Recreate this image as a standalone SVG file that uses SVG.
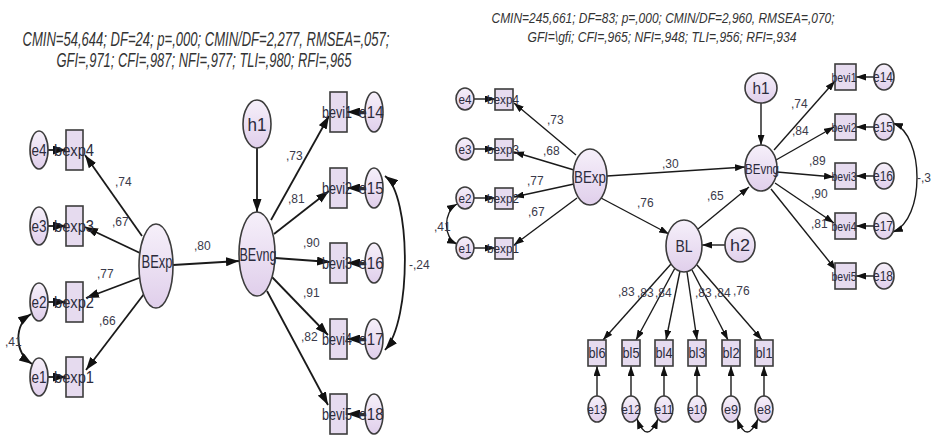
<svg xmlns="http://www.w3.org/2000/svg" width="934" height="440" viewBox="0 0 934 440">
<defs>
<linearGradient id="gf" x1="0" y1="0" x2="0" y2="1">
<stop offset="0" stop-color="#f6f0fa"/>
<stop offset="1" stop-color="#e0cfeb"/>
</linearGradient>
<marker id="ah" viewBox="0 0 13 9" refX="13" refY="4.5" markerWidth="13" markerHeight="9" markerUnits="userSpaceOnUse" orient="auto-start-reverse"><path d="M0,0L13,4.5L0,9z" fill="#111"/></marker>
<marker id="as" viewBox="0 0 10 7" refX="10" refY="3.5" markerWidth="10" markerHeight="7" markerUnits="userSpaceOnUse" orient="auto-start-reverse"><path d="M0,0L10,3.5L0,7z" fill="#111"/></marker>
<style>
.el{fill:url(#gf);stroke:#3c3c3c;stroke-width:1.6}
.bx{fill:#e6dbef;stroke:#3c3c3c;stroke-width:1.6}
.t{font-family:"Liberation Sans",Arial,sans-serif;fill:#2b2b3c;text-anchor:middle}
.n{font-family:"Liberation Sans",Arial,sans-serif;fill:#3a3a4a;font-size:12px}
.ttl{font-family:"Liberation Sans",Arial,sans-serif;font-style:italic;fill:#333;text-anchor:middle}
.L path{fill:none;stroke:#1a1a1a;stroke-width:1.8;marker-end:url(#ah)}
.R path{fill:none;stroke:#1a1a1a;stroke-width:1.4;marker-end:url(#as)}
.L path.c{marker-start:url(#ah)}
.R path.c{marker-start:url(#as)}
</style>
</defs>
<rect width="934" height="440" fill="#fff"/>

<!-- titles -->
<text class="ttl" x="206" y="46" font-size="20" textLength="367" lengthAdjust="spacingAndGlyphs">CMIN=54,644; DF=24; p=,000; CMIN/DF=2,277, RMSEA=,057;</text>
<text class="ttl" x="204" y="67" font-size="20" textLength="295" lengthAdjust="spacingAndGlyphs">GFI=,971; CFI=,987; NFI=,977; TLI=,980; RFI=,965</text>
<text class="ttl" x="663" y="23" font-size="14" textLength="343" lengthAdjust="spacingAndGlyphs">CMIN=245,661; DF=83; p=,000; CMIN/DF=2,960, RMSEA=,070;</text>
<text class="ttl" x="662" y="42" font-size="14" textLength="269" lengthAdjust="spacingAndGlyphs">GFI=\gfi; CFI=,965; NFI=,948; TLI=,956; RFI=,934</text>

<!-- connectors left -->
<g id="connectors-left" class="L">
<path d="M48,150L66,150"/>
<path d="M48,226L66,226"/>
<path d="M48,302L66,302"/>
<path d="M48,377L66,377"/>
<path d="M142,236L85,155"/>
<path d="M140,253L85,227"/>
<path d="M139,278L86,298"/>
<path d="M144,294L86,370"/>
<path d="M173,265L239,261"/>
<path d="M257,148L257,212"/>
<path d="M271,220L329,116"/>
<path d="M274,234L329,191"/>
<path d="M275,258L330,262"/>
<path d="M272,277L328,335"/>
<path d="M267,291L328,405"/>
<path d="M365,112L347,112"/>
<path d="M365,188L347,188"/>
<path d="M365,263L347,263"/>
<path d="M365,339L347,339"/>
<path d="M365,414L347,414"/>
<path class="c" d="M385,176C411,195 412,320 385,350"/>
<path class="c" d="M31,314C14,325 14,352 32,364"/>
</g>

<!-- connectors right -->
<g id="connectors-right" class="R">
<path d="M474,99L495,99"/>
<path d="M474,149L495,149"/>
<path d="M474,198L495,198"/>
<path d="M474,248L495,248"/>
<path d="M576,155L514,103"/>
<path d="M574,170L514,152"/>
<path d="M574,184L514,197"/>
<path d="M577,198L514,245"/>
<path d="M607,176L745,167"/>
<path d="M601,198L669,234"/>
<path d="M698,229L749,187"/>
<path d="M761,103L761,145"/>
<path d="M725,245L702,245"/>
<path d="M774,150L835,81"/>
<path d="M776,160L834,127"/>
<path d="M777,172L834,177"/>
<path d="M775,183L834,223"/>
<path d="M771,189L836,270"/>
<path d="M874,77L856,77"/>
<path d="M874,127L856,127"/>
<path d="M874,176L856,176"/>
<path d="M874,226L856,226"/>
<path d="M874,276L856,276"/>
<path class="c" d="M893,123C925,135 925,220 893,232"/>
<path class="c" d="M457,204C443,212 443,238 457,244"/>
<path d="M671,264L603,340"/>
<path d="M675,268L636,340"/>
<path d="M680,271L666,340"/>
<path d="M687,272L697,340"/>
<path d="M692,270L728,340"/>
<path d="M697,265L762,340"/>
<path d="M597,396L597,366"/>
<path d="M631,396L631,366"/>
<path d="M664,396L664,366"/>
<path d="M697,396L697,366"/>
<path d="M731,396L731,366"/>
<path d="M764,396L764,366"/>
<path class="c" d="M637,419Q647,445 658,419"/>
<path class="c" d="M737,419Q747,445 758,419"/>
</g>

<!-- left coefficient labels -->
<g id="labels-left" class="n" font-size="13">
<text x="115" y="186">,74</text>
<text x="112" y="226">,67</text>
<text x="97" y="278">,77</text>
<text x="99" y="325">,66</text>
<text x="194" y="250">,80</text>
<text x="286" y="160">,73</text>
<text x="288" y="203">,81</text>
<text x="303" y="247">,90</text>
<text x="303" y="297">,91</text>
<text x="301" y="341">,82</text>
<text x="409" y="269">-,24</text>
<text x="5" y="346">,41</text>
</g>

<!-- right coefficient labels -->
<g id="labels-right" class="n" font-size="11">
<text x="547" y="124">,73</text>
<text x="543" y="155">,68</text>
<text x="527" y="185">,77</text>
<text x="528" y="216">,67</text>
<text x="662" y="168">,30</text>
<text x="637" y="207">,76</text>
<text x="707" y="200">,65</text>
<text x="791" y="108">,74</text>
<text x="792" y="135">,84</text>
<text x="809" y="165">,89</text>
<text x="811" y="198">,90</text>
<text x="811" y="228">,81</text>
<text x="917" y="182">-,3</text>
<text x="434" y="231">,41</text>
<text x="618" y="296">,83</text>
<text x="637" y="297">,83</text>
<text x="655" y="297">,84</text>
<text x="695" y="297">,83</text>
<text x="714" y="297">,84</text>
<text x="733" y="295">,76</text>
</g>

<!-- left nodes -->
<g id="L-e4"><ellipse class="el" cx="39" cy="150" rx="9" ry="19"/><text class="t" x="39" y="156" font-size="16" textLength="15" lengthAdjust="spacingAndGlyphs">e4</text></g>
<g id="L-e3"><ellipse class="el" cx="39" cy="226" rx="9" ry="19"/><text class="t" x="39" y="232" font-size="16" textLength="15" lengthAdjust="spacingAndGlyphs">e3</text></g>
<g id="L-e2"><ellipse class="el" cx="39" cy="302" rx="9" ry="19"/><text class="t" x="39" y="308" font-size="16" textLength="15" lengthAdjust="spacingAndGlyphs">e2</text></g>
<g id="L-e1"><ellipse class="el" cx="39" cy="377" rx="9" ry="19"/><text class="t" x="39" y="383" font-size="16" textLength="15" lengthAdjust="spacingAndGlyphs">e1</text></g>
<g id="L-bexp4"><rect class="bx" x="66" y="130" width="17" height="40"/><text class="t" x="74" y="156" font-size="16" textLength="40" lengthAdjust="spacingAndGlyphs">bexp4</text></g>
<g id="L-bexp3"><rect class="bx" x="66" y="206" width="17" height="40"/><text class="t" x="74" y="232" font-size="16" textLength="40" lengthAdjust="spacingAndGlyphs">bexp3</text></g>
<g id="L-bexp2"><rect class="bx" x="66" y="282" width="17" height="40"/><text class="t" x="74" y="308" font-size="16" textLength="40" lengthAdjust="spacingAndGlyphs">bexp2</text></g>
<g id="L-bexp1"><rect class="bx" x="66" y="357" width="17" height="40"/><text class="t" x="74" y="383" font-size="16" textLength="40" lengthAdjust="spacingAndGlyphs">bexp1</text></g>
<g id="L-BExp"><ellipse class="el" cx="156" cy="266" rx="17" ry="42"/><text class="t" x="157" y="268" font-size="18" textLength="31" lengthAdjust="spacingAndGlyphs">BExp</text></g>
<g id="L-BEvng"><ellipse class="el" cx="257" cy="254" rx="18" ry="42"/><text class="t" x="258" y="261" font-size="18" textLength="37" lengthAdjust="spacingAndGlyphs">BEvng</text></g>
<g id="L-h1"><ellipse class="el" cx="257" cy="124" rx="14" ry="24"/><text class="t" x="257" y="131" font-size="18" textLength="19" lengthAdjust="spacingAndGlyphs">h1</text></g>
<g id="L-bevi1"><rect class="bx" x="330" y="92" width="17" height="40"/><text class="t" x="337" y="118" font-size="16" textLength="30" lengthAdjust="spacingAndGlyphs">bevi1</text></g>
<g id="L-bevi2"><rect class="bx" x="330" y="168" width="17" height="40"/><text class="t" x="337" y="194" font-size="16" textLength="30" lengthAdjust="spacingAndGlyphs">bevi2</text></g>
<g id="L-bevi3"><rect class="bx" x="330" y="243" width="17" height="40"/><text class="t" x="337" y="269" font-size="16" textLength="30" lengthAdjust="spacingAndGlyphs">bevi3</text></g>
<g id="L-bevi4"><rect class="bx" x="330" y="319" width="17" height="40"/><text class="t" x="337" y="345" font-size="16" textLength="30" lengthAdjust="spacingAndGlyphs">bevi4</text></g>
<g id="L-bevi5"><rect class="bx" x="330" y="394" width="17" height="40"/><text class="t" x="337" y="420" font-size="16" textLength="30" lengthAdjust="spacingAndGlyphs">bevi5</text></g>
<g id="L-e14"><ellipse class="el" cx="374" cy="112" rx="9" ry="20"/><text class="t" x="371" y="118" font-size="16" textLength="25" lengthAdjust="spacingAndGlyphs">e14</text></g>
<g id="L-e15"><ellipse class="el" cx="374" cy="188" rx="9" ry="20"/><text class="t" x="371" y="194" font-size="16" textLength="25" lengthAdjust="spacingAndGlyphs">e15</text></g>
<g id="L-e16"><ellipse class="el" cx="374" cy="263" rx="9" ry="20"/><text class="t" x="371" y="269" font-size="16" textLength="25" lengthAdjust="spacingAndGlyphs">e16</text></g>
<g id="L-e17"><ellipse class="el" cx="374" cy="339" rx="9" ry="20"/><text class="t" x="371" y="345" font-size="16" textLength="25" lengthAdjust="spacingAndGlyphs">e17</text></g>
<g id="L-e18"><ellipse class="el" cx="374" cy="414" rx="9" ry="20"/><text class="t" x="371" y="420" font-size="16" textLength="25" lengthAdjust="spacingAndGlyphs">e18</text></g>

<!-- right nodes -->
<g id="R-e4"><ellipse class="el" cx="465" cy="99" rx="9" ry="11"/><text class="t" x="465" y="104" font-size="13" textLength="13" lengthAdjust="spacingAndGlyphs">e4</text></g>
<g id="R-e3"><ellipse class="el" cx="465" cy="149" rx="9" ry="11"/><text class="t" x="465" y="154" font-size="13" textLength="13" lengthAdjust="spacingAndGlyphs">e3</text></g>
<g id="R-e2"><ellipse class="el" cx="465" cy="198" rx="9" ry="11"/><text class="t" x="465" y="203" font-size="13" textLength="13" lengthAdjust="spacingAndGlyphs">e2</text></g>
<g id="R-e1"><ellipse class="el" cx="465" cy="248" rx="9" ry="11"/><text class="t" x="465" y="253" font-size="13" textLength="13" lengthAdjust="spacingAndGlyphs">e1</text></g>
<g id="R-bexp4"><rect class="bx" x="495" y="89" width="18" height="21"/><text class="t" x="503" y="104" font-size="13" textLength="32" lengthAdjust="spacingAndGlyphs">bexp4</text></g>
<g id="R-bexp3"><rect class="bx" x="495" y="139" width="18" height="21"/><text class="t" x="503" y="154" font-size="13" textLength="32" lengthAdjust="spacingAndGlyphs">bexp3</text></g>
<g id="R-bexp2"><rect class="bx" x="495" y="188" width="18" height="21"/><text class="t" x="503" y="203" font-size="13" textLength="32" lengthAdjust="spacingAndGlyphs">bexp2</text></g>
<g id="R-bexp1"><rect class="bx" x="495" y="238" width="18" height="21"/><text class="t" x="503" y="253" font-size="13" textLength="32" lengthAdjust="spacingAndGlyphs">bexp1</text></g>
<g id="R-BExp"><ellipse class="el" cx="590" cy="177" rx="17" ry="28"/><text class="t" x="590" y="183" font-size="16" textLength="32" lengthAdjust="spacingAndGlyphs">BExp</text></g>
<g id="R-BEvng"><ellipse class="el" cx="761" cy="168" rx="16" ry="23"/><text class="t" x="762" y="174" font-size="15" textLength="34" lengthAdjust="spacingAndGlyphs">BEvng</text></g>
<g id="R-h1"><ellipse class="el" cx="761" cy="88" rx="16" ry="15"/><text class="t" x="761" y="94" font-size="16" textLength="17" lengthAdjust="spacingAndGlyphs">h1</text></g>
<g id="R-BL"><ellipse class="el" cx="684" cy="246" rx="18" ry="26"/><text class="t" x="684" y="252" font-size="16" textLength="17" lengthAdjust="spacingAndGlyphs">BL</text></g>
<g id="R-h2"><ellipse class="el" cx="740" cy="245" rx="15" ry="17"/><text class="t" x="740" y="251" font-size="16" textLength="20" lengthAdjust="spacingAndGlyphs">h2</text></g>
<g id="R-bevi1"><rect class="bx" x="835" y="64" width="21" height="26"/><text class="t" x="844" y="82" font-size="13" textLength="25" lengthAdjust="spacingAndGlyphs">bevi1</text></g>
<g id="R-bevi2"><rect class="bx" x="835" y="114" width="21" height="26"/><text class="t" x="844" y="132" font-size="13" textLength="25" lengthAdjust="spacingAndGlyphs">bevi2</text></g>
<g id="R-bevi3"><rect class="bx" x="835" y="163" width="21" height="26"/><text class="t" x="844" y="181" font-size="13" textLength="25" lengthAdjust="spacingAndGlyphs">bevi3</text></g>
<g id="R-bevi4"><rect class="bx" x="835" y="213" width="21" height="26"/><text class="t" x="844" y="231" font-size="13" textLength="25" lengthAdjust="spacingAndGlyphs">bevi4</text></g>
<g id="R-bevi5"><rect class="bx" x="835" y="263" width="21" height="26"/><text class="t" x="844" y="281" font-size="13" textLength="25" lengthAdjust="spacingAndGlyphs">bevi5</text></g>
<g id="R-e14"><ellipse class="el" cx="884" cy="77" rx="10" ry="13"/><text class="t" x="883" y="82" font-size="14" textLength="20" lengthAdjust="spacingAndGlyphs">e14</text></g>
<g id="R-e15"><ellipse class="el" cx="884" cy="127" rx="10" ry="13"/><text class="t" x="883" y="132" font-size="14" textLength="20" lengthAdjust="spacingAndGlyphs">e15</text></g>
<g id="R-e16"><ellipse class="el" cx="884" cy="176" rx="10" ry="13"/><text class="t" x="883" y="181" font-size="14" textLength="20" lengthAdjust="spacingAndGlyphs">e16</text></g>
<g id="R-e17"><ellipse class="el" cx="884" cy="226" rx="10" ry="13"/><text class="t" x="883" y="231" font-size="14" textLength="20" lengthAdjust="spacingAndGlyphs">e17</text></g>
<g id="R-e18"><ellipse class="el" cx="884" cy="276" rx="10" ry="13"/><text class="t" x="883" y="281" font-size="14" textLength="20" lengthAdjust="spacingAndGlyphs">e18</text></g>
<g id="R-bl6"><rect class="bx" x="588" y="340" width="18" height="26"/><text class="t" x="597" y="358" font-size="14" textLength="17" lengthAdjust="spacingAndGlyphs">bl6</text></g>
<g id="R-bl5"><rect class="bx" x="622" y="340" width="18" height="26"/><text class="t" x="631" y="358" font-size="14" textLength="17" lengthAdjust="spacingAndGlyphs">bl5</text></g>
<g id="R-bl4"><rect class="bx" x="655" y="340" width="18" height="26"/><text class="t" x="664" y="358" font-size="14" textLength="17" lengthAdjust="spacingAndGlyphs">bl4</text></g>
<g id="R-bl3"><rect class="bx" x="688" y="340" width="18" height="26"/><text class="t" x="697" y="358" font-size="14" textLength="17" lengthAdjust="spacingAndGlyphs">bl3</text></g>
<g id="R-bl2"><rect class="bx" x="722" y="340" width="18" height="26"/><text class="t" x="731" y="358" font-size="14" textLength="17" lengthAdjust="spacingAndGlyphs">bl2</text></g>
<g id="R-bl1"><rect class="bx" x="755" y="340" width="18" height="26"/><text class="t" x="764" y="358" font-size="14" textLength="17" lengthAdjust="spacingAndGlyphs">bl1</text></g>
<g id="R-e13"><ellipse class="el" cx="597" cy="409" rx="9" ry="13"/><text class="t" x="597" y="414" font-size="13" textLength="19" lengthAdjust="spacingAndGlyphs">e13</text></g>
<g id="R-e12"><ellipse class="el" cx="631" cy="409" rx="9" ry="13"/><text class="t" x="631" y="414" font-size="13" textLength="19" lengthAdjust="spacingAndGlyphs">e12</text></g>
<g id="R-e11"><ellipse class="el" cx="664" cy="409" rx="9" ry="13"/><text class="t" x="664" y="414" font-size="13" textLength="19" lengthAdjust="spacingAndGlyphs">e11</text></g>
<g id="R-e10"><ellipse class="el" cx="697" cy="409" rx="9" ry="13"/><text class="t" x="697" y="414" font-size="13" textLength="19" lengthAdjust="spacingAndGlyphs">e10</text></g>
<g id="R-e9"><ellipse class="el" cx="731" cy="409" rx="9" ry="13"/><text class="t" x="731" y="414" font-size="13" textLength="14" lengthAdjust="spacingAndGlyphs">e9</text></g>
<g id="R-e8"><ellipse class="el" cx="764" cy="409" rx="9" ry="13"/><text class="t" x="764" y="414" font-size="13" textLength="14" lengthAdjust="spacingAndGlyphs">e8</text></g>
</svg>
